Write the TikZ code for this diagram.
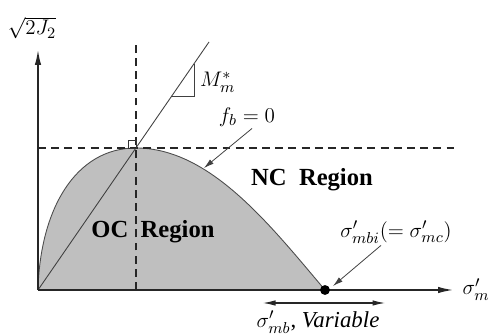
\documentclass[tikz,border=0pt]{standalone}
\usepackage{fontspec}
\setmainfont{Liberation Serif}
\usetikzlibrary{arrows.meta}

\begin{document}
\begin{tikzpicture}[
  axis/.style={draw=black!85, line width=0.8pt, -{Latex[length=3mm, width=1.3mm]}},
  guide/.style={draw=black!85, dash pattern=on 4.5pt off 3pt, line width=0.6pt},
  pointer/.style={draw=black!75, line width=0.45pt, -{Latex[length=2mm, width=1.1mm]}},
  region/.style={font=\fontsize{14}{16}\selectfont\bfseries},
  lbl/.style={font=\fontsize{13}{15}\selectfont, inner sep=1pt}]

  \useasboundingbox (-0.76,-0.9) rectangle (9.08,5.8);

  \coordinate (O)    at (0,0);
  \coordinate (peak) at (1.96,2.84);
  \coordinate (mb)   at (5.74,0);
  \coordinate (ytip) at (0,4.8);
  \coordinate (xtip) at (8.3,0);

  % yield surface f_b = 0
  \fill[black!25] (O) .. controls (0.04,1.6) and (0.74,2.84) .. (peak)
    .. controls (3.44,2.84) and (4.64,1.3) .. (mb) -- cycle;
  \draw[black!70, line width=0.5pt] (O) .. controls (0.04,1.6) and (0.74,2.84) .. (peak)
    .. controls (3.44,2.84) and (4.64,1.3) .. (mb);

  % critical state line
  \coordinate (mtop) at (3.42,4.96);
  \draw[black!75, line width=0.5pt] (O) -- (mtop);
  \draw[black!75, line width=0.5pt] (2.68,3.88) -- (3.12,3.88) -- (3.12,4.52);
  \node[lbl, anchor=west] (slope) at (3.2,4.16) {$M_m^*$};

  \draw[guide] (peak |- O) -- (1.96,4.9);
  \draw[guide] (peak -| O) -- (8.34,2.84);
  \draw[black!80, line width=0.5pt] (1.80,2.84) rectangle (1.96,3.0);

  % axes
  \draw[axis] (O) -- (ytip);
  \draw[axis] (O) -- (xtip);
  \node[lbl] (ylab) at (-0.12,5.24) {$\sqrt{2J_2}$};
  \node[lbl, anchor=base west] (xlab) at (8.45,-0.1) {$\sigma'_m$};

  \node[region] (oc) at (2.3,1.16) {OC~~Region};
  \node[region] (nc) at (5.48,2.2) {NC~~Region};

  \node[lbl] (fb) at (4.18,3.46) {$f_b = 0$};
  \coordinate (fbpt) at (3.32,2.44);
  \draw[pointer] ([xshift=1mm]fb.south) -- (fbpt);

  \fill (mb) circle (2.8pt);
  \node[lbl] (mbi) at (7.16,1.16) {$\sigma'_{mbi}(=\sigma'_{mc})$};
  \coordinate (mbpt) at (5.9,0.08);
  \draw[pointer] ([xshift=-3mm]mbi.south) -- (mbpt);

  \coordinate (varl) at (4.5,-0.26);
  \coordinate (varr) at (6.94,-0.26);
  \draw[black!85, line width=0.6pt, {Latex[length=2.5mm, width=1.1mm]}-{Latex[length=2.5mm, width=1.1mm]}] (varl) -- (varr);
  \node[lbl] (var) at (5.6,-0.64) {$\sigma'_{mb}$, \textit{Variable}};
\end{tikzpicture}
\end{document}
